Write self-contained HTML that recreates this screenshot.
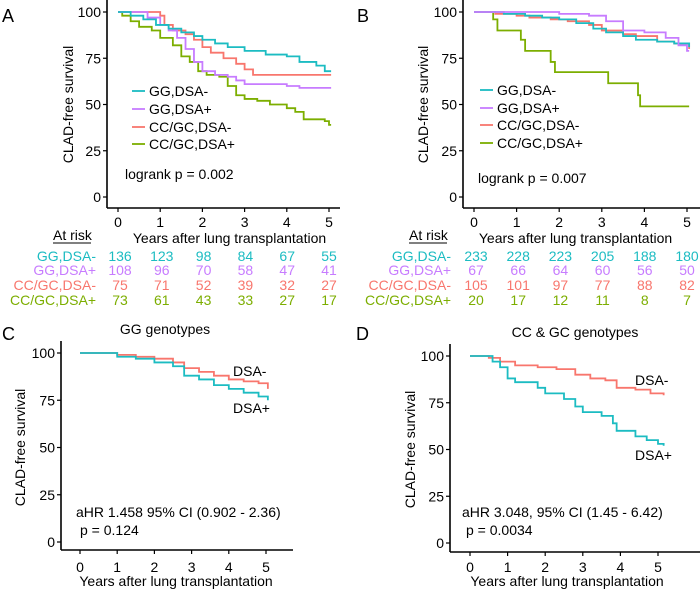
<!DOCTYPE html>
<html><head><meta charset="utf-8"><style>
body{margin:0;background:#fff;overflow:hidden}
svg{display:block;font-family:"Liberation Sans",sans-serif}
</style></head><body>
<svg id="fig" width="700" height="591" viewBox="0 0 700 591"></svg>
<script>
const colors = ["#1cbcc2","#c77cff","#f8766d","#7cae00"];
const groupNames = ["GG,DSA-","GG,DSA+","CC/GC,DSA-","CC/GC,DSA+"];
const yTicks = [0,25,50,75,100];
const xTicks = [0,1,2,3,4,5];
// Panel A step curves: [time, survival]
const aTealT=[0,0.3,0.6,0.9,1.2,1.5,1.8,2.0,2.3,2.6,3.0,3.5,4.0,4.3,4.7,4.9,5.05];
const aTealS=[100,98,96,93,91,89,87,85,83,81,79,77,76,73,71,68,68];
const aPurpT=[0,0.5,0.7,1.0,1.2,1.4,1.6,1.8,2.0,2.3,2.6,2.8,3.0,4.0,4.3,5.05];
const aPurpS=[100,100,97,93,90,86,80,73,68,66,65,63,61,60,59,59];
const aRedT=[0,1.0,1.1,1.3,1.6,1.8,2.0,2.2,2.5,2.8,3.0,3.2,5.05];
const aRedS=[100,98,93,90,88,85,81,78,75,72,69,66,66];
const aGrnT=[0,0.1,0.3,0.5,0.8,1.0,1.3,1.5,1.7,1.9,2.1,2.4,2.6,2.8,3.0,3.3,3.6,4.0,4.2,4.4,4.9,5.0,5.05];
const aGrnS=[100,98,95,92,90,86,82,76,73,68,66,65,60,55,53,52,50,48,46,42,41,39,39];
// Panel B
const bTealT=[0,0.7,1.2,1.6,2.0,2.4,2.8,3.1,3.5,3.8,4.3,4.7,5.05];
const bTealS=[100,99,98,97,96,94,91,89,87,85,84,83,81];
const bPurpT=[0,2.0,2.7,3.1,3.5,4.0,4.5,4.8,5.0,5.05];
const bPurpS=[100,99,98,95,90,89,86,82,79,79];
const bRedT=[0,0.5,1.0,1.3,1.8,2.2,2.7,3.0,3.5,3.8,4.3,4.7,5.05];
const bRedS=[100,99,98,97,96,95,93,90,88,87,84,83,80];
const bGrnT=[0,0.45,0.55,1.1,1.2,1.8,1.9,3.15,3.85,3.9,5.05];
const bGrnS=[100,96,90,85,79,73,67.5,61.5,55,49,49];
// Panel C
const cRedT=[0,0.6,1.0,1.5,2.0,2.5,2.8,3.2,3.6,4.0,4.4,4.8,5.05];
const cRedS=[100,100,99,98,97,95,92,90,88,86,85,84,81];
const cTealT=[0,0.6,1.0,1.5,2.0,2.5,2.8,3.2,3.6,4.0,4.4,4.8,5.05];
const cTealS=[100,100,98,97,95,93,88,86,83,81,79,77,75];
// Panel D
const dRedT=[0,0.5,0.8,1.2,1.8,2.3,2.8,3.2,3.6,3.9,4.4,4.8,5.15];
const dRedS=[100,99,97,95,94,93,90,88,87,83,82,80,79];
const dTealT=[0,0.6,0.8,1.0,1.2,1.8,2.0,2.5,2.8,3.0,3.5,3.8,3.9,4.4,4.7,5.0,5.15];
const dTealS=[100,97,94,88,86,83,80,77,73,70,68,64,60,57,55,53,52];
// At-risk tables
const aRisk=[[136,123,98,84,67,55],[108,96,70,58,47,41],[75,71,52,39,32,27],[73,61,43,33,27,17]];
const bRisk=[[233,228,223,205,188,180],[67,66,64,60,56,50],[105,101,97,77,88,82],[20,17,12,11,8,7]];

const NS="http://www.w3.org/2000/svg";
const svg=document.getElementById('fig');
function el(tag,attrs,parent,txt){const e=document.createElementNS(NS,tag);for(const k in attrs)e.setAttribute(k,attrs[k]);if(txt!==undefined)e.textContent=txt;(parent||svg).appendChild(e);return e;}

function panel(cfg){
  const g=el('g',{},svg);
  
  
  const sx=t=>cfg.x0+(cfg.x5-cfg.x0)*t/5;
  const sy=v=>cfg.y0-(cfg.y0-cfg.y100)*v/100;
  const ya=el('line',{x1:cfg.ax,y1:cfg.y100-12,x2:cfg.ax,y2:cfg.axy,stroke:'#000','stroke-width':1.6},g);
  
  
  const xa=el('line',{x1:cfg.ax,y1:cfg.axy,x2:cfg.axEnd,y2:cfg.axy,stroke:'#000','stroke-width':1.6},g);
  
  
  yTicks.forEach(v=>{
    el('line',{x1:cfg.ax-4,y1:sy(v),x2:cfg.ax,y2:sy(v),stroke:'#000','stroke-width':1.2},g);
    const t=el('text',{x:cfg.ax-6,y:sy(v)+5,'text-anchor':'end','font-size':14},g,String(v));
    
    
  });
  xTicks.forEach(v=>{
    el('line',{x1:sx(v),y1:cfg.axy,x2:sx(v),y2:cfg.axy+4,stroke:'#000','stroke-width':1.2},g);
    const t=el('text',{x:sx(v),y:cfg.axy+cfg.tkOff,'text-anchor':'middle','font-size':14},g,String(v));
    
    
  });
  const xt=el('text',{x:(cfg.x0+cfg.x5)/2+cfg.xtOff,y:cfg.axy+cfg.xtY,'text-anchor':'middle','font-size':14},g,'Years after lung transplantation');
  
  
  const cy=(cfg.y0+cfg.y100)/2;
  const yt=el('text',{x:cfg.ytx,y:cy,'text-anchor':'middle','font-size':14,transform:`rotate(-90 ${cfg.ytx} ${cy})`},g,'CLAD-free survival');
  
  
  const pl=el('text',{x:cfg.lx,y:cfg.ly,'font-size':18},g,cfg.letter);
  
  
  cfg.series.forEach(s=>{
    let d=`M${sx(s.t[0])},${sy(s.s[0])}`;
    for(let i=1;i<s.t.length;i++){d+=`H${sx(s.t[i])}V${sy(s.s[i])}`;}
    const p=el('path',{d,fill:'none',stroke:s.c,'stroke-width':1.8},g);
    
    
  });
  return g;
}

panel({name:'panel-a',letter:'A',lx:2,ly:22,ax:107,axy:208,axEnd:340,x0:118,x5:329,y0:197,y100:12,ytx:73,xtOff:6,tkOff:19,xtY:35,
  series:[{t:aGrnT,s:aGrnS,c:colors[3],n:'curve-cc-gc-dsa-pos'},{t:aRedT,s:aRedS,c:colors[2],n:'curve-cc-gc-dsa-neg'},{t:aPurpT,s:aPurpS,c:colors[1],n:'curve-gg-dsa-pos'},{t:aTealT,s:aTealS,c:colors[0],n:'curve-gg-dsa-neg'}]});
panel({name:'panel-b',letter:'B',lx:357,ly:22,ax:463,axy:208,axEnd:700,x0:474,x5:687,y0:197,y100:12,ytx:428,xtOff:-5,tkOff:19,xtY:35,
  series:[{t:bGrnT,s:bGrnS,c:colors[3],n:'curve-cc-gc-dsa-pos'},{t:bRedT,s:bRedS,c:colors[2],n:'curve-cc-gc-dsa-neg'},{t:bTealT,s:bTealS,c:colors[0],n:'curve-gg-dsa-neg'},{t:bPurpT,s:bPurpS,c:colors[1],n:'curve-gg-dsa-pos'}]});
panel({name:'panel-c',letter:'C',lx:2,ly:340,ax:61,axy:550,axEnd:293,x0:80,x5:266,y0:542,y100:353,ytx:25,xtOff:3,tkOff:22,xtY:36,
  series:[{t:cRedT,s:cRedS,c:colors[2],n:'curve-dsa-neg'},{t:cTealT,s:cTealS,c:colors[0],n:'curve-dsa-pos'}]});
panel({name:'panel-d',letter:'D',lx:356,ly:340,ax:450,axy:552,axEnd:700,x0:470,x5:658,y0:543,y100:356,ytx:415,xtOff:3,tkOff:20,xtY:34,
  series:[{t:dRedT,s:dRedS,c:colors[2],n:'curve-dsa-neg'},{t:dTealT,s:dTealS,c:colors[0],n:'curve-dsa-pos'}]});

// Legends A & B
function legend(x,ys){
  groupNames.forEach((n,i)=>{
    el('line',{x1:x,y1:ys[i],x2:x+13,y2:ys[i],stroke:colors[i],'stroke-width':1.8});
    const t=el('text',{x:x+17,y:ys[i]+5,'font-size':14},svg,n);
    
    
  });
}
legend(132,[91,109,127,144]);
legend(480,[90,108,125,143]);
const la=el('text',{x:125,y:179,'font-size':14},svg,'logrank p = 0.002');


const lb=el('text',{x:478,y:183,'font-size':14},svg,'logrank p = 0.007');



// At risk tables
function risk(labelRight,x0,x5,data,atx){
  const ar=el('text',{x:atx,y:240,'font-size':14},svg,'At risk');
  
  
  el('line',{x1:atx,y1:243,x2:atx+38,y2:243,stroke:'#000','stroke-width':1});
  const rows=[261,275,290,305];
  data.forEach((r,i)=>{
    const l=el('text',{x:labelRight,y:rows[i],'text-anchor':'end','font-size':14,fill:colors[i]},svg,groupNames[i]);
    
    
    r.forEach((v,j)=>{
      const t=el('text',{x:x0+(x5-x0)*j/5,y:rows[i],'text-anchor':'middle','font-size':14,fill:colors[i]},svg,String(v));
      
      
    });
  });
}
risk(96,120,329,aRisk,53);
risk(451,476,687,bRisk,409);

// C/D annotations
function txt(x,y,s,name,anchor){const t=el('text',{x,y,'font-size':14,'text-anchor':anchor||'start'},svg,s);
  
  }
txt(165,334,'GG genotypes','panel-c-title','middle');
txt(575,337,'CC & GC genotypes','panel-d-title','middle');
txt(233,376,'DSA-','label-dsa-neg-c');
txt(233,413,'DSA+','label-dsa-pos-c');
txt(635,385,'DSA-','label-dsa-neg-d');
txt(635,460,'DSA+','label-dsa-pos-d');
txt(76,517,'aHR 1.458 95% CI (0.902 - 2.36)','ahr-c');
txt(80,535,'p = 0.124','p-value-c');
txt(462,517,'aHR 3.048, 95% CI (1.45 - 6.42)','ahr-d');
txt(466,535,'p = 0.0034','p-value-d');
</script>
</body></html>
